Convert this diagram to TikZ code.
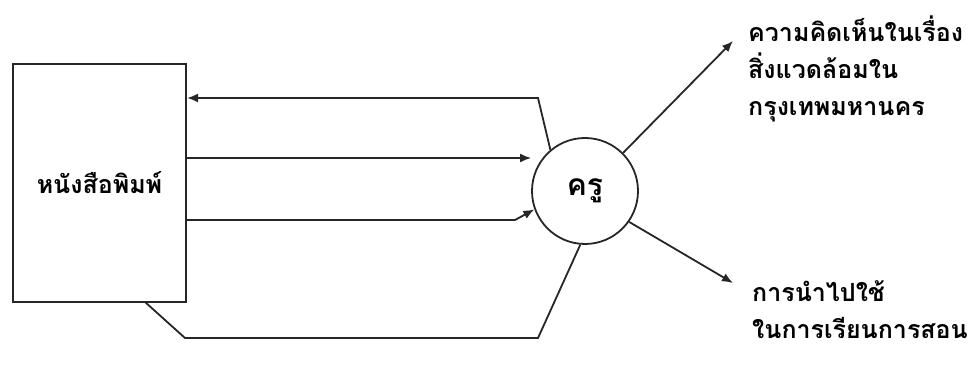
\documentclass[tikz,border=0pt]{standalone}
\usepackage{fontspec}
\newfontfamily\thaifont[Script=Thai]{Loma}
\usetikzlibrary{arrows.meta}
\begin{document}
\begin{tikzpicture}[x=1pt,y=-1pt,
  conn/.style={line width=1.8pt,black!85},
  arr/.style={conn,-{Latex[length=11pt,width=9pt]}},
  lbl/.style={font=\thaifont\fontsize{25}{37}\selectfont\bfseries,align=left,anchor=north west,inner sep=0pt}]
\useasboundingbox (0,0) rectangle (976,379);
\node[draw,line width=2pt,black!85,minimum width=173pt,minimum height=238pt,inner sep=0pt] (paper) at (99.5,183) {};
\node[font=\thaifont\fontsize{25}{28}\selectfont\bfseries] (plabel) at (paper.center) {หนังสือพิมพ์};
\node[draw,circle,line width=1.8pt,black!85,minimum size=106pt,inner sep=0pt] (teacher) at (585,191) {};
\node[font=\thaifont\fontsize{30}{34}\selectfont\bfseries] (tlabel) at (teacher.center) {ครู};
\coordinate (a1) at (538,98);
\coordinate (a2s) at (paper.east |- 0,158);
\coordinate (a3s) at (paper.east |- 0,220);
\coordinate (a3b) at (515,220);
\coordinate (b1) at (145,302);
\coordinate (b2) at (185,338);
\coordinate (b3) at (538,338);
\draw[arr] (teacher.130) -- (a1) -- (paper.east |- a1);
\draw[arr] (a2s) -- (teacher.west |- a2s);
\draw[arr] (a3s) -- (a3b) -- (teacher.200);
\draw[conn] (b1) -- (b2) -- (b3) -- (teacher.265);
\coordinate (t1) at (733,41);
\coordinate (t2) at (733,283);
\draw[arr] (teacher.45) -- (t1);
\draw[arr] (teacher.-35) -- (t2);
\node[lbl] (opinion) at (748,16) {ความคิดเห็นในเรื่อง\\สิ่งแวดล้อมใน\\กรุงเทพมหานคร};
\node[lbl] (use) at (752,280) {การนำไปใช้\\ในการเรียนการสอน};
\end{tikzpicture}
\end{document}
